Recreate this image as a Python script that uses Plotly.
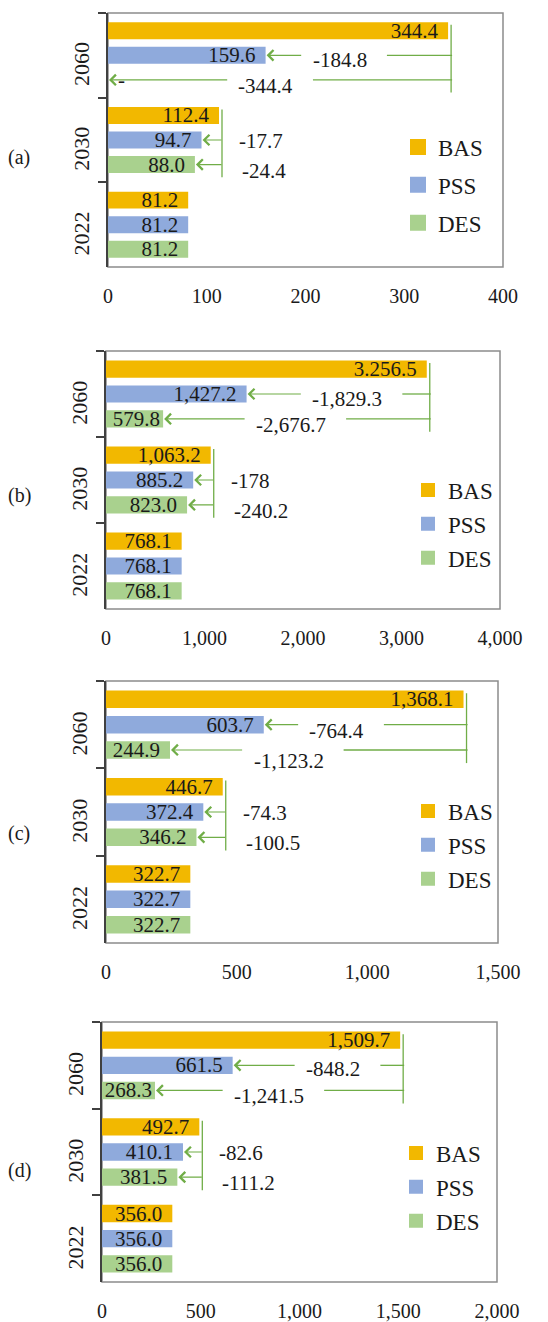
import plotly.graph_objects as go

# ---------------- data ----------------
YEARS = ["2022", "2030", "2060"]
SCENARIOS = ["BAS", "PSS", "DES"]
PANEL_LABELS = ["(a)", "(b)", "(c)", "(d)"]

A_BAS = [81.2, 112.4, 344.4]
A_PSS = [81.2, 94.7, 159.6]
A_DES = [81.2, 88.0, 0.0]
A_DIFF_2030 = ["-17.7", "-24.4"]
A_DIFF_2060 = ["-184.8", "-344.4"]
A_XTICKS = [0, 100, 200, 300, 400]

B_BAS = [768.1, 1063.2, 3256.5]
B_PSS = [768.1, 885.2, 1427.2]
B_DES = [768.1, 823.0, 579.8]
B_DIFF_2030 = ["-178", "-240.2"]
B_DIFF_2060 = ["-1,829.3", "-2,676.7"]
B_XTICKS = [0, 1000, 2000, 3000, 4000]

C_BAS = [322.7, 446.7, 1368.1]
C_PSS = [322.7, 372.4, 603.7]
C_DES = [322.7, 346.2, 244.9]
C_DIFF_2030 = ["-74.3", "-100.5"]
C_DIFF_2060 = ["-764.4", "-1,123.2"]
C_XTICKS = [0, 500, 1000, 1500]

D_BAS = [356.0, 492.7, 1509.7]
D_PSS = [356.0, 410.1, 661.5]
D_DES = [356.0, 381.5, 268.3]
D_DIFF_2030 = ["-82.6", "-111.2"]
D_DIFF_2060 = ["-848.2", "-1,241.5"]
D_XTICKS = [0, 500, 1000, 1500, 2000]

# label text exactly as printed in the source figure
LABEL_OVERRIDES = {(1, "BAS", "2060"): "3.256.5"}

# ---------------- styling / layout ----------------
W, H = 548, 1322
FONT = "Liberation Serif, Times New Roman, serif"
TXT = "#1a1a1a"
COLORS = {"BAS": "#F2B800", "PSS": "#8FAADC", "DES": "#A9D18E"}
GREEN = "#70AD47"
VAL_FS = 21

PANEL_BOX_PX = [(108, 503, 13, 267), (106, 500, 351, 609),
                (106, 498, 681, 943), (102, 497, 1022, 1282)]
PANEL_LABEL_PX = [(19, 157), (19, 495), (19, 833), (19, 1170)]
LEGEND_PX = [(398, 185, 16, 5), (408, 524, 14, 1), (408, 845, 14, 1), (396, 1187, 14, 1)]
DIFF_FRAC_2060 = [(0.40, 0.46), (0.55, 0.48), (0.36, 0.40), (0.59, 0.46)]
DIFF_YSHIFT_2060 = [(-5, -6), (-5, -6), (-6, -11), (-4, -6)]

BARGAP = 0.13
BARGROUPGAP = 0.31
SLOT = (1 - BARGAP) / 3

panels = [
    (dict(BAS=A_BAS, PSS=A_PSS, DES=A_DES), A_DIFF_2030, A_DIFF_2060, A_XTICKS),
    (dict(BAS=B_BAS, PSS=B_PSS, DES=B_DES), B_DIFF_2030, B_DIFF_2060, B_XTICKS),
    (dict(BAS=C_BAS, PSS=C_PSS, DES=C_DES), C_DIFF_2030, C_DIFF_2060, C_XTICKS),
    (dict(BAS=D_BAS, PSS=D_PSS, DES=D_DES), D_DIFF_2030, D_DIFF_2060, D_XTICKS),
]

CAT_ORDER = ["2060", "2030", "2022"]


def text_w(s, fs):
    w = 0
    for c in s:
        if c.isdigit():
            w += 0.5
        elif c == "-":
            w += 0.333
        else:
            w += 0.25
    return w * fs


fig = go.Figure()
shapes = []
annotations = []
layout_axes = {}

for i, (vals, d2030, d2060, xticks) in enumerate(panels):
    n = "" if i == 0 else str(i + 1)
    xa, ya = "x" + n, "y" + n
    legkey = "legend" + n
    xl, xr, yt, yb = PANEL_BOX_PX[i]
    R = xticks[-1]
    px2d = R / (xr - xl)

    for scen in SCENARIOS:
        v = vals[scen]
        texts, pos = [], []
        for yr, val in zip(YEARS, v):
            if val == 0:
                texts.append("\u2004-")
                pos.append("outside")
            else:
                t = LABEL_OVERRIDES.get((i, scen, yr), f"{val:,.1f}")
                slack = val / px2d - text_w(t, VAL_FS) - 3
                if slack >= 12:
                    pad = "\u2004"
                elif slack >= 7:
                    pad = "\u2006"
                else:
                    pad = ""
                texts.append(t + pad)
                pos.append("inside")
        fig.add_trace(go.Bar(
            y=YEARS, x=v, orientation="h", name=scen,
            marker=dict(color=COLORS[scen], line=dict(width=0)),
            text=texts, textposition=pos, insidetextanchor="end",
            textangle=0, constraintext="none",
            textfont=dict(family=FONT, size=VAL_FS, color=TXT),
            outsidetextfont=dict(family=FONT, size=VAL_FS, color=TXT),
            showlegend=False, hoverinfo="skip", cliponaxis=False,
            xaxis=xa, yaxis=ya,
        ))
    # legend entries
    for scen in SCENARIOS:
        fig.add_trace(go.Scatter(
            x=[None], y=[None], mode="markers", name=scen,
            legendgroup=f"{i}_{scen}",
            marker=dict(symbol="square", size=LEGEND_PX[i][2], color=COLORS[scen]),
            legend=legkey, xaxis=xa, yaxis=ya, hoverinfo="skip",
        ))

    lx, ly, _, gap = LEGEND_PX[i]
    layout_axes[legkey] = dict(
        x=lx / W, y=1 - ly / H, xanchor="left", yanchor="middle",
        bgcolor="rgba(0,0,0,0)", font=dict(family=FONT, size=23, color=TXT),
        itemsizing="trace", itemclick=False, itemdoubleclick=False,
        traceorder="grouped", tracegroupgap=gap,
    )

    layout_axes["xaxis" + n] = dict(
        domain=[xl / W, xr / W], range=[0, R], anchor=ya, automargin=False,
        tickvals=xticks, tickformat=",", showgrid=False, zeroline=False,
        showline=False, ticks="", ticklabelstandoff=15,
        tickfont=dict(family=FONT, size=20, color=TXT), fixedrange=True,
    )
    layout_axes["yaxis" + n] = dict(
        domain=[1 - yb / H, 1 - yt / H], anchor=xa, type="category", automargin=False,
        categoryorder="array", categoryarray=CAT_ORDER, range=[2.5, -0.5],
        showline=True, linecolor="#404040", linewidth=1.5,
        ticks="outside", tickson="boundaries", ticklen=8, tickcolor="#404040",
        tickwidth=1.5, tickangle=-90, ticklabelshift=-12, ticklabelstandoff=8,
        tickfont=dict(family=FONT, size=22, color=TXT),
        showgrid=False, zeroline=False, fixedrange=True,
    )

    # frame
    shapes.append(dict(type="rect", xref=xa + " domain", yref=ya + " domain",
                       x0=0, x1=1, y0=0, y1=1, layer="below",
                       line=dict(color="#8c8c8c", width=1.5)))

    # panel label
    plx, ply = PANEL_LABEL_PX[i]
    annotations.append(dict(xref="paper", yref="paper", x=plx / W, y=1 - ply / H,
                            xanchor="center", yanchor="middle",
                            text=PANEL_LABELS[i], showarrow=False,
                            font=dict(family=FONT, size=20, color=TXT)))

    # difference brackets
    for yr, diffs in (("2060", d2060), ("2030", d2030)):
        j = YEARS.index(yr)
        k = CAT_ORDER.index(yr)
        bas = vals["BAS"][j]
        vx = bas + 3 * px2d
        shapes.append(dict(type="line", xref=xa, yref=ya, x0=vx, x1=vx,
                           y0=k - SLOT - 0.07, y1=k + SLOT + 0.15,
                           line=dict(color=GREEN, width=1.3)))
        rows = [("PSS", k, diffs[0]), ("DES", k + SLOT, diffs[1])]
        for r, (scen, yrow, lab) in enumerate(rows):
            target = vals[scen][j]
            if yr == "2060":
                frac = DIFF_FRAC_2060[i][r]
                cx = target + frac * (vx - target)
                tw = text_w(lab, 21) * px2d
                gl = cx - tw / 2 - 10 * px2d
                gr = cx + tw / 2 + 20 * px2d
                tail = gl
                shapes.append(dict(type="line", xref=xa, yref=ya, x0=gr, x1=vx + px2d,
                                   y0=yrow, y1=yrow,
                                   line=dict(color=GREEN, width=1.3)))
                annotations.append(dict(xref=xa, yref=ya, x=cx, y=yrow, text=lab,
                                        xanchor="center",
                                        showarrow=False, yshift=DIFF_YSHIFT_2060[i][r],
                                        font=dict(family=FONT, size=21, color=TXT)))
            else:
                tail = vx + px2d
                annotations.append(dict(xref=xa, yref=ya, x=vx + (15 + 3 * r) * px2d,
                                        y=yrow, text=lab, xanchor="left",
                                        showarrow=False, yshift=-1 - 5 * r,
                                        font=dict(family=FONT, size=21, color=TXT)))
            annotations.append(dict(xref=xa, yref=ya, x=target, y=yrow,
                                    axref=xa, ayref=ya, ax=tail, ay=yrow,
                                    text="", showarrow=True, arrowhead=4,
                                    arrowsize=1.7, arrowwidth=1.2,
                                    arrowcolor=GREEN, standoff=1))

fig.update_layout(
    width=W, height=H, margin=dict(l=0, r=0, t=0, b=0, pad=0, autoexpand=False),
    paper_bgcolor="white", plot_bgcolor="white",
    barmode="group", bargap=BARGAP, bargroupgap=BARGROUPGAP,
    font=dict(family=FONT, color=TXT),
    shapes=shapes, annotations=annotations,
    **layout_axes,
)

fig.write_html("out.html", config={"displayModeBar": False},
               post_script="document.body.style.margin='0px';")
